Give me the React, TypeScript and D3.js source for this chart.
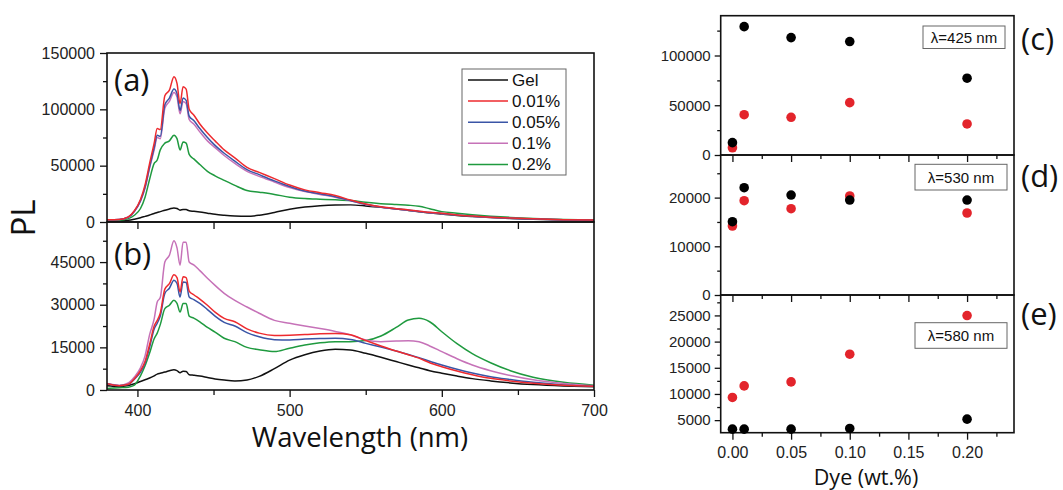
import { useEffect, useRef } from 'react'
import * as d3 from 'd3'

// Wavelength grid shared by all spectra (nm)
const wavelengths = [380, 388, 394, 398, 402, 405, 408, 411, 413, 415, 418, 421, 424, 426, 428, 430, 432, 434, 437, 441, 446, 451, 457, 464, 472, 480, 490, 500, 510, 520, 530, 540, 550, 560, 570, 578, 585, 592, 600, 610, 620, 632, 645, 660, 680, 700]

// Panel (a) spectra
const gelA = [1000, 1000, 1500, 2500, 3800, 5000, 6200, 7500, 8500, 9200, 10500, 11500, 12500, 12000, 10500, 11200, 11000, 10000, 9500, 8800, 7800, 6800, 6000, 5300, 5000, 6000, 8500, 11300, 13300, 14500, 15100, 15200, 14300, 13000, 11600, 10300, 9100, 8000, 7000, 5800, 4900, 4000, 3200, 2500, 1800, 1400]
const p001A = [2000, 2200, 4500, 10000, 20000, 33000, 52000, 70000, 83000, 82000, 112000, 117000, 129000, 123000, 105000, 120000, 118000, 100000, 95000, 87000, 79000, 72000, 64000, 57000, 48500, 44000, 38500, 32800, 28500, 26000, 23500, 19500, 16000, 13500, 11800, 10700, 9600, 8600, 7700, 6300, 5300, 4300, 3500, 2800, 2100, 1700]
const p005A = [2000, 2200, 4300, 9500, 19000, 31000, 49000, 66000, 77000, 76000, 104000, 110000, 118000, 114000, 99000, 110000, 108000, 94000, 90000, 83000, 75000, 68000, 61000, 54000, 46500, 42000, 36500, 31500, 27500, 25000, 22500, 19000, 15800, 13300, 11600, 10500, 9400, 8400, 7500, 6200, 5200, 4200, 3400, 2700, 2000, 1600]
const p01A = [2000, 2200, 4200, 9300, 18500, 30000, 48000, 64000, 75000, 74000, 101000, 107000, 115000, 111000, 96000, 107000, 105000, 91000, 87000, 80000, 72000, 66000, 59000, 52000, 45000, 40500, 35500, 30500, 27000, 24500, 22000, 18800, 15600, 13200, 11500, 10400, 9300, 8300, 7400, 6100, 5100, 4100, 3300, 2600, 1900, 1500]
const p02A = [1500, 1600, 3000, 6000, 12000, 22000, 38000, 52000, 55000, 64000, 70000, 72000, 77000, 74000, 64000, 71000, 70000, 60000, 56000, 51000, 45000, 41000, 37000, 32500, 28000, 26500, 24500, 22000, 20800, 20200, 19700, 19000, 17500, 16300, 15500, 14900, 14000, 11800, 9200, 7800, 6500, 5200, 4100, 3100, 2200, 1800]

// Panel (b) spectra
const gelB = [1500, 1200, 1600, 2200, 3000, 3600, 4200, 5000, 5600, 5900, 6300, 6800, 7100, 6800, 6100, 6600, 6500, 5400, 5200, 4900, 4400, 3900, 3500, 3200, 3500, 4800, 7500, 10500, 12400, 13700, 14300, 14100, 12900, 11500, 10000, 8800, 7800, 6800, 5900, 4900, 4000, 3200, 2500, 1900, 1400, 1100]
const p001B = [2200, 1500, 2000, 4000, 6800, 10000, 16000, 22500, 24500, 27000, 35500, 37400, 40500, 39500, 34500, 39800, 39500, 34800, 33500, 32000, 29800, 27400, 25200, 24000, 21500, 20000, 19200, 19300, 19500, 19800, 19900, 19400, 17400, 15500, 13700, 12400, 11200, 9600, 8200, 6700, 5400, 4100, 3200, 2400, 1700, 1300]
const p005B = [2200, 1500, 1900, 3800, 6300, 9500, 15000, 21500, 23500, 26000, 34000, 35800, 38600, 37500, 32700, 38000, 37800, 32700, 31800, 30500, 28300, 26000, 23800, 22500, 20200, 18700, 17700, 17600, 17900, 18100, 18200, 17800, 16400, 15100, 13700, 12500, 11400, 10100, 8800, 7300, 6000, 4700, 3700, 2700, 1800, 1300]
const p01B = [2200, 1700, 2500, 4600, 7800, 12000, 19500, 25000, 31000, 32500, 45000, 47400, 52500, 50000, 43900, 52000, 52000, 45000, 44000, 42000, 39300, 36800, 34000, 31500, 29200, 27000, 24500, 23500, 22500, 21600, 20600, 19400, 17600, 17000, 17200, 17300, 17000, 15500, 13500, 11000, 8800, 6800, 5100, 3600, 2300, 1500]
const p02B = [500, 800, 1000, 1700, 5000, 8500, 13000, 18000, 20000, 23000, 28600, 29800, 31600, 30500, 27400, 30400, 30400, 26000, 25300, 24000, 22000, 20400, 18200, 17000, 15000, 14200, 13500, 14700, 15800, 16600, 17000, 17000, 17400, 19000, 22000, 24600, 25200, 24000, 20500, 16300, 12800, 9600, 6800, 4500, 2700, 1700]

const seriesNames = ['Gel', '0.01%', '0.05%', '0.1%', '0.2%']
const seriesColors = ['#111111', '#ee2a2e', '#3a55a6', '#c672b8', '#1f9a3f']

// Right panels: PL at fixed wavelength vs dye concentration
const dyeConc = [0, 0.01, 0.05, 0.1, 0.2]
const c425Black = [12400, 129000, 118000, 114000, 77200]
const c425Red = [7300, 40500, 37900, 52600, 31200]
const c530Black = [15050, 22030, 20530, 19500, 19500]
const c530Red = [14170, 19360, 17720, 20330, 16840]
const c580Black = [3280, 3280, 3280, 3410, 5190]
const c580Red = [9330, 11540, 12300, 17590, 24980]

const tickFont = '"Liberation Sans", Arial, sans-serif'
const labelFont = '"Open Sans", "Noto Sans", sans-serif'

const App = () => {
  const svgRef = useRef<SVGSVGElement | null>(null)

  useEffect(() => {
    if (!svgRef.current) return
    const svg = d3.select(svgRef.current)
    svg.selectAll('*').remove()

    const styleAxis = (g: any, fontSize: number) => {
      g.select('.domain').remove()
      g.selectAll('line').attr('stroke', '#111').attr('stroke-width', 1.3)
      g.selectAll('text')
        .style('font-family', tickFont)
        .style('font-size', `${fontSize}px`)
        .attr('fill', '#222')
    }

    const frame = (x0: number, y0: number, x1: number, y1: number) => {
      svg.append('rect')
        .attr('x', x0).attr('y', y0)
        .attr('width', x1 - x0).attr('height', y1 - y0)
        .attr('fill', 'none').attr('stroke', '#111').attr('stroke-width', 1.6)
    }

    // ---------- left spectra ----------
    const x = d3.scaleLinear().domain([380, 700]).range([107, 594])
    const yA = d3.scaleLinear().domain([0, 150000]).range([222, 53])
    const yB = d3.scaleLinear().domain([0, 59100]).range([390, 222])

    const spectra = [
      { y: yA, sets: [gelA, p001A, p005A, p01A, p02A], top: 53, bottom: 222 },
      { y: yB, sets: [gelB, p001B, p005B, p01B, p02B], top: 222, bottom: 390 },
    ]

    spectra.forEach((panel, pi) => {
      const clipId = `clip-spec-${pi}`
      svg.append('clipPath').attr('id', clipId)
        .append('rect').attr('x', 107).attr('y', panel.top)
        .attr('width', 487).attr('height', panel.bottom - panel.top)
      const line = d3.line<number>()
        .x((_, i) => x(wavelengths[i]))
        .y((d) => panel.y(d))
        .curve(d3.curveMonotoneX)
      const order = [0, 4, 3, 2, 1]
      order.forEach((si) => {
        svg.append('path')
          .attr('clip-path', `url(#${clipId})`)
          .attr('d', line(panel.sets[si]) as string)
          .attr('fill', 'none')
          .attr('stroke', seriesColors[si])
          .attr('stroke-width', 1.5)
      })
    })

    // y axes left
    const yAxA = svg.append('g').attr('transform', 'translate(107,0)')
      .call(d3.axisLeft(yA).tickValues([0, 50000, 100000, 150000]).tickSize(7).tickPadding(5).tickFormat(d3.format('d')))
    styleAxis(yAxA, 16)
    const yAxAm = svg.append('g').attr('transform', 'translate(107,0)')
      .call(d3.axisLeft(yA).tickValues([25000, 75000, 125000]).tickSize(4).tickFormat(() => ''))
    styleAxis(yAxAm, 16)

    const yAxB = svg.append('g').attr('transform', 'translate(107,0)')
      .call(d3.axisLeft(yB).tickValues([0, 15000, 30000, 45000]).tickSize(7).tickPadding(5).tickFormat(d3.format('d')))
    styleAxis(yAxB, 16)
    const yAxBm = svg.append('g').attr('transform', 'translate(107,0)')
      .call(d3.axisLeft(yB).tickValues([7500, 22500, 37500, 52500]).tickSize(4).tickFormat(() => ''))
    styleAxis(yAxBm, 16)

    // x ticks under (a)
    const xAxA = svg.append('g').attr('transform', 'translate(0,222)')
      .call(d3.axisBottom(x).tickValues([400, 450, 500, 550, 600, 650]).tickSize(7).tickFormat(() => ''))
    styleAxis(xAxA, 16)

    // x axis (b)
    const xAxB = svg.append('g').attr('transform', 'translate(0,390)')
      .call(d3.axisBottom(x).tickValues([400, 500, 600, 700]).tickSize(7).tickPadding(8).tickFormat(d3.format('d')))
    styleAxis(xAxB, 16)
    const xAxBm = svg.append('g').attr('transform', 'translate(0,390)')
      .call(d3.axisBottom(x).tickValues([450, 550, 650]).tickSize(5).tickFormat(() => ''))
    styleAxis(xAxBm, 16)

    frame(107, 53, 594, 222)
    frame(107, 222, 594, 390)

    // panel letters
    svg.append('text').attr('x', 114).attr('y', 91).text('(a)')
      .style('font-family', labelFont).style('font-size', '31px').attr('fill', '#111')
    svg.append('text').attr('x', 114).attr('y', 265).text('(b)')
      .style('font-family', labelFont).style('font-size', '31px').attr('fill', '#111')

    // legend
    const legend = svg.append('g')
    legend.append('rect').attr('x', 462).attr('y', 69).attr('width', 104).attr('height', 106)
      .attr('fill', 'white').attr('stroke', '#666').attr('stroke-width', 1)
    seriesNames.forEach((name, i) => {
      const ly = 80 + i * 21.1
      legend.append('line').attr('x1', 468).attr('x2', 508).attr('y1', ly).attr('y2', ly)
        .attr('stroke', seriesColors[i]).attr('stroke-width', 1.5)
      legend.append('text').attr('x', 512).attr('y', ly + 6).text(name)
        .style('font-family', tickFont).style('font-size', '17px').attr('fill', '#111')
    })

    // axis titles
    svg.append('text').attr('x', 360).attr('y', 447).attr('text-anchor', 'middle')
      .text('Wavelength (nm)')
      .style('font-family', labelFont).style('font-size', '27.5px').attr('fill', '#111')
    svg.append('text').attr('transform', 'translate(35,218) rotate(-90)').attr('text-anchor', 'middle')
      .text('PL')
      .style('font-family', labelFont).style('font-size', '33px').attr('fill', '#111')

    // ---------- right scatter panels ----------
    const xr = d3.scaleLinear().domain([-0.01, 0.24]).range([720.7, 1014])
    const rightPanels = [
      {
        y: d3.scaleLinear().domain([0, 140000]).range([155, 15.7]), top: 15.7, bottom: 155,
        major: [0, 50000, 100000], minor: [25000, 75000, 125000],
        black: c425Black, red: c425Red, tag: 'λ=425 nm', box: [923, 26, 82, 22.5], letter: '(c)', ly: 50,
      },
      {
        y: d3.scaleLinear().domain([0, 28750]).range([295, 155]), top: 155, bottom: 295,
        major: [0, 10000, 20000], minor: [5000, 15000, 25000],
        black: c530Black, red: c530Red, tag: 'λ=530 nm', box: [915, 164.3, 92, 25.7], letter: '(d)', ly: 187,
      },
      {
        y: d3.scaleLinear().domain([2600, 28900]).range([432.7, 295]), top: 295, bottom: 432.7,
        major: [5000, 10000, 15000, 20000, 25000], minor: [7500, 12500, 17500, 22500, 27500],
        black: c580Black, red: c580Red, tag: 'λ=580 nm', box: [915, 322.7, 92, 25.6], letter: '(e)', ly: 325,
      },
    ]

    const xMajor = [0, 0.05, 0.1, 0.15, 0.2]
    const xMinor = [0.025, 0.075, 0.125, 0.175, 0.225]

    rightPanels.forEach((p, pi) => {
      const ya = svg.append('g').attr('transform', 'translate(720.7,0)')
        .call(d3.axisLeft(p.y).tickValues(p.major).tickSize(6).tickPadding(4).tickFormat(d3.format('d')))
      styleAxis(ya, 15)
      const yam = svg.append('g').attr('transform', 'translate(720.7,0)')
        .call(d3.axisLeft(p.y).tickValues(p.minor).tickSize(3.5).tickFormat(() => ''))
      styleAxis(yam, 15)

      const isLast = pi === rightPanels.length - 1
      const xa = svg.append('g').attr('transform', `translate(0,${p.bottom})`)
        .call(d3.axisBottom(xr).tickValues(xMajor).tickSize(7).tickPadding(7)
          .tickFormat(isLast ? (d3.format('.2f') as any) : () => ''))
      styleAxis(xa, 16)
      const xam = svg.append('g').attr('transform', `translate(0,${p.bottom})`)
        .call(d3.axisBottom(xr).tickValues(xMinor).tickSize(4).tickFormat(() => ''))
      styleAxis(xam, 16)

      frame(720.7, p.top, 1014, p.bottom)

      // red first, then black on top
      svg.append('g').selectAll('circle').data(p.red).enter().append('circle')
        .attr('cx', (_, i) => xr(dyeConc[i])).attr('cy', (d) => p.y(d)).attr('r', 4.8)
        .attr('fill', '#e3242b')
      svg.append('g').selectAll('circle').data(p.black).enter().append('circle')
        .attr('cx', (_, i) => xr(dyeConc[i])).attr('cy', (d) => p.y(d)).attr('r', 4.8)
        .attr('fill', '#000')

      const [bx, by, bw, bh] = p.box
      svg.append('rect').attr('x', bx).attr('y', by).attr('width', bw).attr('height', bh)
        .attr('fill', 'white').attr('stroke', '#666').attr('stroke-width', 1)
      svg.append('text').attr('x', bx + bw / 2).attr('y', by + bh / 2 + 5.5).attr('text-anchor', 'middle')
        .text(p.tag).style('font-family', tickFont).style('font-size', '15px').attr('fill', '#111')

      svg.append('text').attr('x', 1021).attr('y', p.ly).text(p.letter)
        .style('font-family', labelFont).style('font-size', '31px').attr('fill', '#111')
    })

    svg.append('text').attr('x', 866).attr('y', 485).attr('text-anchor', 'middle')
      .text('Dye (wt.%)')
      .style('font-family', labelFont).style('font-size', '21.5px').attr('fill', '#111')
  }, [])

  return (
    <div style={{ position: 'absolute', left: 0, top: 0, width: 1063, height: 490, background: 'white' }}>
      <svg ref={svgRef} width={1063} height={490}></svg>
    </div>
  )
}

export default App
